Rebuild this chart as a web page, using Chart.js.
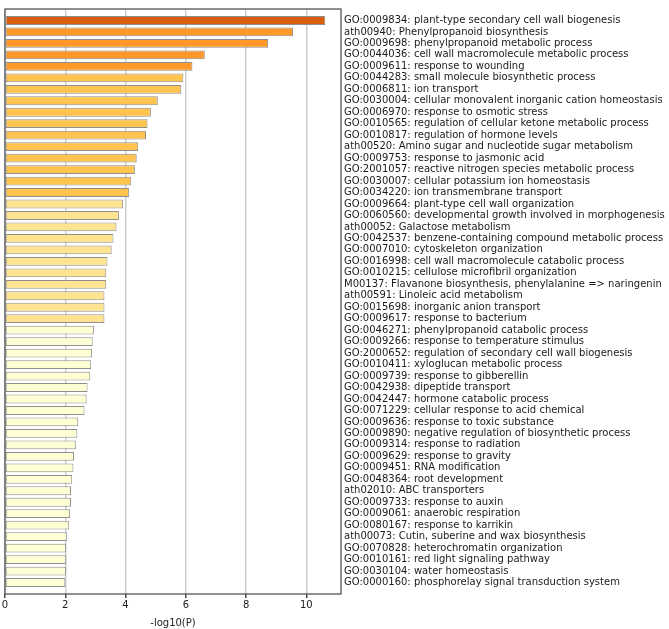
<!DOCTYPE html>
<html>
<head>
<meta charset="utf-8">
<script src="https://cdn.jsdelivr.net/npm/chart.js@4.4.1/dist/chart.umd.min.js"></script>
<style>
html,body{margin:0;padding:0;background:#fff;}
canvas{display:block;}
</style>
</head>
<body>
<canvas id="c" width="669" height="629"></canvas>
<script>
const categories = [
  "GO:0009834: plant-type secondary cell wall biogenesis",
  "ath00940: Phenylpropanoid biosynthesis",
  "GO:0009698: phenylpropanoid metabolic process",
  "GO:0044036: cell wall macromolecule metabolic process",
  "GO:0009611: response to wounding",
  "GO:0044283: small molecule biosynthetic process",
  "GO:0006811: ion transport",
  "GO:0030004: cellular monovalent inorganic cation homeostasis",
  "GO:0006970: response to osmotic stress",
  "GO:0010565: regulation of cellular ketone metabolic process",
  "GO:0010817: regulation of hormone levels",
  "ath00520: Amino sugar and nucleotide sugar metabolism",
  "GO:0009753: response to jasmonic acid",
  "GO:2001057: reactive nitrogen species metabolic process",
  "GO:0030007: cellular potassium ion homeostasis",
  "GO:0034220: ion transmembrane transport",
  "GO:0009664: plant-type cell wall organization",
  "GO:0060560: developmental growth involved in morphogenesis",
  "ath00052: Galactose metabolism",
  "GO:0042537: benzene-containing compound metabolic process",
  "GO:0007010: cytoskeleton organization",
  "GO:0016998: cell wall macromolecule catabolic process",
  "GO:0010215: cellulose microfibril organization",
  "M00137: Flavanone biosynthesis, phenylalanine => naringenin",
  "ath00591: Linoleic acid metabolism",
  "GO:0015698: inorganic anion transport",
  "GO:0009617: response to bacterium",
  "GO:0046271: phenylpropanoid catabolic process",
  "GO:0009266: response to temperature stimulus",
  "GO:2000652: regulation of secondary cell wall biogenesis",
  "GO:0010411: xyloglucan metabolic process",
  "GO:0009739: response to gibberellin",
  "GO:0042938: dipeptide transport",
  "GO:0042447: hormone catabolic process",
  "GO:0071229: cellular response to acid chemical",
  "GO:0009636: response to toxic substance",
  "GO:0009890: negative regulation of biosynthetic process",
  "GO:0009314: response to radiation",
  "GO:0009629: response to gravity",
  "GO:0009451: RNA modification",
  "GO:0048364: root development",
  "ath02010: ABC transporters",
  "GO:0009733: response to auxin",
  "GO:0009061: anaerobic respiration",
  "GO:0080167: response to karrikin",
  "ath00073: Cutin, suberine and wax biosynthesis",
  "GO:0070828: heterochromatin organization",
  "GO:0010161: red light signaling pathway",
  "GO:0030104: water homeostasis",
  "GO:0000160: phosphorelay signal transduction system"
];
const values = [
  10.63, 9.56, 8.73, 6.63, 6.22, 5.92, 5.85, 5.07, 4.84, 4.73,
  4.68, 4.42, 4.37, 4.31, 4.19, 4.12, 3.92, 3.78, 3.70, 3.60,
  3.54, 3.40, 3.36, 3.36, 3.30, 3.30, 3.30, 2.95, 2.91, 2.89,
  2.86, 2.83, 2.74, 2.71, 2.64, 2.43, 2.40, 2.35, 2.29, 2.27,
  2.23, 2.19, 2.19, 2.16, 2.13, 2.05, 2.02, 2.02, 2.02, 2.00
];
const xTicks = [0, 2, 4, 6, 8, 10];
const xMax = 11.15;
const colorThresholds = [10, 6, 4, 3];
const palette = ["#d95f0e", "#fe9929", "#fec44f", "#fee391", "#ffffd4"];

function colorFor(v) {
  if (v === null) return "rgba(0,0,0,0)";
  for (let i = 0; i < colorThresholds.length; i++) {
    if (v >= colorThresholds[i]) return palette[i];
  }
  return palette[palette.length - 1];
}

// one blank slot at each end gives the padding inside the frame
const labels = [""].concat(categories, [""]);
const data = [null].concat(values, [null]);

const framePlugin = {
  id: "frame",
  afterDraw(chart) {
    const a = chart.chartArea;
    const ctx = chart.ctx;
    ctx.save();
    ctx.strokeStyle = "#555";
    ctx.lineWidth = 1.3;
    ctx.strokeRect(a.left, a.top, a.right - a.left, a.bottom - a.top);
    ctx.restore();
  }
};

new Chart(document.getElementById("c"), {
  type: "bar",
  data: {
    labels: labels,
    datasets: [{
      data: data,
      backgroundColor: data.map(colorFor),
      borderColor: "#8f8f8f",
      borderWidth: 1,
      borderSkipped: false,
      barPercentage: 0.77,
      categoryPercentage: 1
    }]
  },
  options: {
    indexAxis: "y",
    responsive: false,
    animation: false,
    devicePixelRatio: 1,
    layout: { padding: { left: 5, top: 4, right: 0, bottom: 0 } },
    plugins: { legend: { display: false }, tooltip: { enabled: false } },
    scales: {
      x: {
        type: "linear",
        position: "bottom",
        min: 0,
        max: xMax,
        afterBuildTicks(scale) { scale.ticks = xTicks.map(v => ({ value: v })); },
        afterFit(scale) { scale.height = 35; },
        ticks: {
          includeBounds: false,
          color: "#222",
          font: { family: "DejaVu Sans", size: 10 },
          padding: 1,
          maxRotation: 0
        },
        grid: {
          color: "#cdcdcd",
          lineWidth: 1.5,
          drawTicks: true,
          tickLength: 4,
          tickColor: "#444"
        },
        border: { display: false },
        title: {
          display: true,
          text: "-log10(P)",
          color: "#222",
          font: { family: "DejaVu Sans", size: 10 },
          padding: { top: 1, bottom: 0 }
        }
      },
      y: {
        type: "category",
        position: "right",
        offset: false,
        afterFit(scale) { scale.width = 328; },
        ticks: {
          autoSkip: false,
          color: "#1a1a1a",
          font: { family: "DejaVu Sans", size: 10 },
          padding: 3,
          crossAlign: "near"
        },
        grid: { display: false, drawTicks: false },
        border: { display: false }
      }
    }
  },
  plugins: [framePlugin]
});
</script>
</body>
</html>
